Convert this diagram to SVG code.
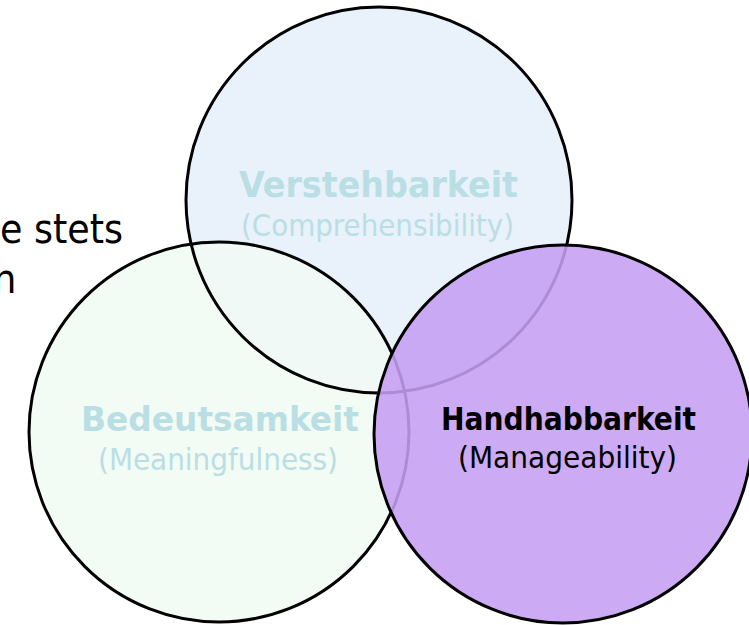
<svg xmlns="http://www.w3.org/2000/svg" width="749" height="625" viewBox="0 0 749 625">
<style>
.t{font-family:"DejaVu Sans Condensed","DejaVu Sans",sans-serif;text-anchor:middle}
.b{font-weight:bold}
.pale{fill:#b9dfe4}
.ring{fill:none;stroke:#000;stroke-width:3}
</style>
<rect width="749" height="625" fill="#fff"/>
<g id="background-text" class="t" style="text-anchor:start">
<text x="0" y="243" font-size="41" fill="#000" textLength="123" lengthAdjust="spacingAndGlyphs">e stets</text>
<text x="-7" y="293" font-size="41" fill="#000">n</text>
</g>
<g id="verstehbarkeit">
<circle cx="379" cy="200" r="193" fill="#e7f0fb" fill-opacity="0.9"/>
<text class="t b pale" x="378.5" y="197" font-size="36" textLength="279" lengthAdjust="spacingAndGlyphs">Verstehbarkeit</text>
<text class="t pale" x="377.5" y="236" font-size="30" textLength="273" lengthAdjust="spacingAndGlyphs">(Comprehensibility)</text>
</g>
<g id="bedeutsamkeit">
<circle cx="219" cy="432" r="190" fill="#f1faf3" fill-opacity="0.85"/>
<text class="t b pale" x="220" y="431" font-size="34" textLength="278" lengthAdjust="spacingAndGlyphs">Bedeutsamkeit</text>
<text class="t pale" x="218" y="470" font-size="30" textLength="240" lengthAdjust="spacingAndGlyphs">(Meaningfulness)</text>
</g>
<g id="outlines">
<circle class="ring" cx="379" cy="200" r="193"/>
<circle class="ring" cx="219" cy="432" r="190"/>
</g>
<g id="handhabbarkeit">
<circle cx="563" cy="434" r="189" fill="#c59ef3" fill-opacity="0.88"/>
<circle class="ring" cx="563" cy="434" r="189"/>
<text class="t b" x="568.5" y="430" font-size="32" fill="#000" textLength="255" lengthAdjust="spacingAndGlyphs">Handhabbarkeit</text>
<text class="t" x="567.5" y="468" font-size="30" fill="#000" textLength="219" lengthAdjust="spacingAndGlyphs">(Manageability)</text>
</g>
</svg>
